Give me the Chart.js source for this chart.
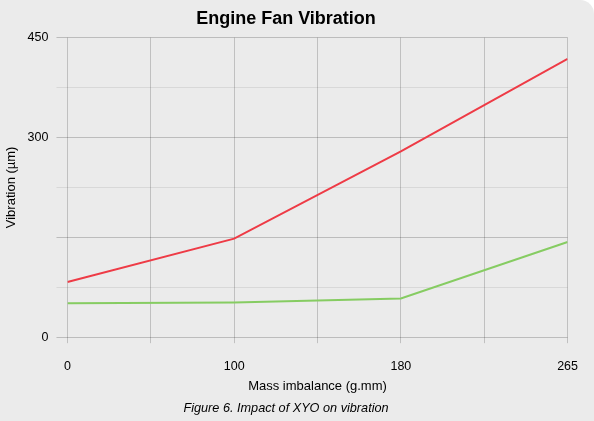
<!DOCTYPE html>
<html>
<head>
<meta charset="utf-8">
<script src="https://cdn.jsdelivr.net/npm/chart.js@4"></script>
<style>
  html, body { margin: 0; padding: 0; background: #ffffff; }
  #wrap {
    width: 594px; height: 421px;
    background: #ebebeb;
    border-top-right-radius: 14px;
    overflow: hidden;
  }
</style>
</head>
<body>
<div id="wrap"><canvas id="chart" width="594" height="421"></canvas></div>
<script>
// Mass imbalance categories (g.mm), equally spaced on the axis
const massLabels = ["0", "100", "180", "265"];
// Vibration readings (µm)
const redValues = [83, 148, 279, 418];
const greenValues = [51, 52, 58, 143];
// Only these y values carry a label
const yTickLabels = [0, 300, 450];

const toPoints = vals => vals.map((v, i) => ({ x: i, y: v }));

new Chart(document.getElementById("chart"), {
  type: "line",
  data: {
    datasets: [
      {
        label: "Series A",
        data: toPoints(redValues),
        borderColor: "#ee3b46",
        borderWidth: 2,
        pointRadius: 0,
        tension: 0
      },
      {
        label: "Series B",
        data: toPoints(greenValues),
        borderColor: "#86cc62",
        borderWidth: 2,
        pointRadius: 0,
        tension: 0
      }
    ]
  },
  options: {
    responsive: false,
    animation: false,
    layout: { padding: { left: 4, right: 26, top: 8, bottom: 5 } },
    plugins: {
      legend: { display: false },
      tooltip: { enabled: false },
      title: {
        display: true,
        text: "Engine Fan Vibration",
        color: "#000",
        font: { family: "Liberation Sans", size: 18, weight: "bold" },
        padding: { top: 0, bottom: 8 }
      },
      subtitle: {
        display: true,
        position: "bottom",
        text: "Figure 6. Impact of XYO on vibration",
        color: "#000",
        font: { family: "Liberation Sans", size: 12.7, style: "italic" },
        padding: { top: 7, bottom: 0 }
      }
    },
    scales: {
      x: {
        type: "linear",
        min: 0,
        max: massLabels.length - 1,
        border: { display: false },
        grid: {
          color: "rgba(0,0,0,0.18)",
          lineWidth: 1,
          tickLength: 6
        },
        ticks: {
          stepSize: 0.5,
          autoSkip: false,
          maxRotation: 0,
          color: "#000",
          padding: 16,
          font: { family: "Liberation Sans", size: 12.5 },
          callback: v => Number.isInteger(v) ? massLabels[v] : ""
        },
        title: {
          display: true,
          text: "Mass imbalance (g.mm)",
          color: "#000",
          font: { family: "Liberation Sans", size: 13 },
          padding: { top: -12, bottom: 0 }
        }
      },
      y: {
        min: 0,
        max: 450,
        border: { display: false },
        grid: {
          color: ctx => (ctx.tick && ctx.tick.value % 150 === 0) ? "rgba(0,0,0,0.2)" : "rgba(0,0,0,0.08)",
          lineWidth: 1,
          tickLength: 11
        },
        ticks: {
          stepSize: 75,
          autoSkip: false,
          color: "#000",
          padding: 8,
          font: { family: "Liberation Sans", size: 12.5 },
          callback: v => yTickLabels.includes(v) ? String(v) : ""
        },
        title: {
          display: true,
          text: "Vibration (µm)",
          color: "#000",
          font: { family: "Liberation Sans", size: 13 },
          padding: { top: 0, bottom: 0 }
        }
      }
    }
  }
});
</script>
</body>
</html>
